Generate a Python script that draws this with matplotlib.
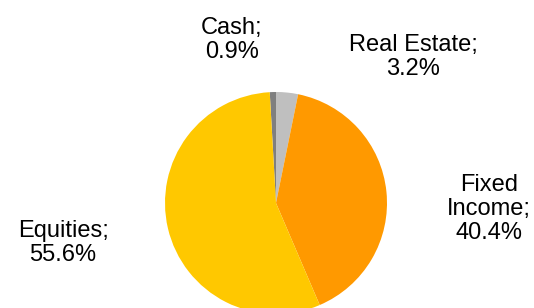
import matplotlib
matplotlib.use("Agg")
import matplotlib.pyplot as plt

plt.rcParams["font.family"] = ["Liberation Sans", "DejaVu Sans"]

categories = ["Cash", "Real Estate", "Fixed Income", "Equities"]
label_text = ["Cash;\n0.9%", "Real Estate;\n3.2%", "Fixed\nIncome;\n40.4%", "Equities;\n55.6%"]
shares = [0.9, 3.2, 40.4, 55.6]
colors = ["#7F7F7F", "#BFBFBF", "#FF9900", "#FFC800"]

# label centres in figure pixels (x from left, y from top)
label_pos = [(232, 40), (413, 57), (489, 209), (63, 243)]

W, H = 534, 308
fig = plt.figure(figsize=(W / 100, H / 100), dpi=100)

cx, cy, r = 276, 203, 111
ax = fig.add_axes([(cx - r) / W, (H - cy - r) / H, 2 * r / W, 2 * r / H])
ax.pie(
    shares,
    colors=colors,
    startangle=90 + shares[0] * 3.6,
    counterclock=False,
    radius=1,
    wedgeprops=dict(linewidth=0),
)
ax.set_xlim(-1, 1)
ax.set_ylim(-1, 1)
ax.set_aspect("auto")
ax.axis("off")

for txt, (px, py) in zip(label_text, label_pos):
    fig.text(px / W, 1 - py / H, txt, ha="center", va="center",
             fontsize=17, linespacing=1.1, color="black")

fig.savefig("out.png", dpi=100)
